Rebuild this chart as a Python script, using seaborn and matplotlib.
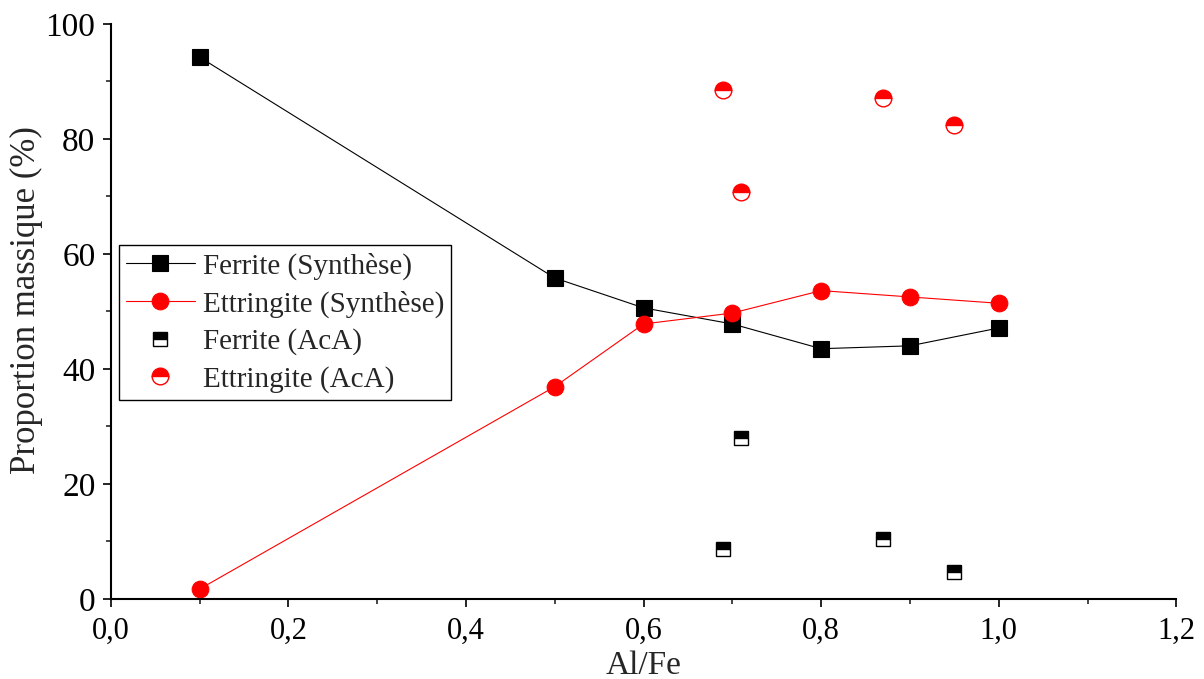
import numpy as np
import matplotlib
matplotlib.use("Agg")
import matplotlib.pyplot as plt
import seaborn as sns
from matplotlib.ticker import MultipleLocator, FuncFormatter

# Data
alFeSynthese = [0.1, 0.5, 0.6, 0.7, 0.8, 0.9, 1.0]
ferriteSynthese = [94.2, 55.8, 50.6, 47.8, 43.5, 44.0, 47.1]
ettringiteSynthese = [1.7, 36.9, 47.8, 49.7, 53.6, 52.5, 51.4]

alFeAcA = [0.69, 0.71, 0.87, 0.95]
ferriteAcA = [8.7, 28.0, 10.4, 4.7]
ettringiteAcA = [88.4, 70.8, 87.1, 82.4]

# Style
sns.set_style("ticks")
plt.rcParams['font.family'] = ['Liberation Serif', 'DejaVu Serif']
plt.rcParams['font.size'] = 16

fig = plt.figure(figsize = (12.04, 6.79), dpi = 100)
ax = fig.add_axes([0.092, 0.118, 0.885, 0.847])

# Synthesis series (lines + markers)
sns.lineplot(x = alFeSynthese, y = ferriteSynthese, ax = ax, color = 'black', linewidth = 0.8,
             marker = 's', markersize = 11, markeredgecolor = 'black', markeredgewidth = 0.8,
             sort = False, errorbar = None, label = "Ferrite (Synthèse)")
sns.lineplot(x = alFeSynthese, y = ettringiteSynthese, ax = ax, color = 'red', linewidth = 0.8,
             marker = 'o', markersize = 12, markeredgecolor = 'red', markeredgewidth = 0.8,
             sort = False, errorbar = None, label = "Ettringite (Synthèse)")

# AcA series (half-filled markers, no line)
sns.lineplot(x = alFeAcA, y = ferriteAcA, ax = ax, color = 'black', linestyle = '',
             marker = 's', markersize = 10.5, fillstyle = 'top', markerfacecoloralt = 'white',
             markeredgecolor = 'black', markeredgewidth = 1.0,
             sort = False, errorbar = None, label = "Ferrite (AcA)")
sns.lineplot(x = alFeAcA, y = ettringiteAcA, ax = ax, color = 'red', linestyle = '',
             marker = 'o', markersize = 12, fillstyle = 'top', markerfacecoloralt = 'white',
             markeredgecolor = 'red', markeredgewidth = 1.0,
             sort = False, errorbar = None, label = "Ettringite (AcA)")

# Axes
ax.set_xlim(0, 1.2)
ax.set_ylim(0, 100)
ax.xaxis.set_major_locator(MultipleLocator(0.2))
ax.xaxis.set_minor_locator(MultipleLocator(0.1))
ax.yaxis.set_major_locator(MultipleLocator(20))
ax.yaxis.set_minor_locator(MultipleLocator(10))
ax.xaxis.set_major_formatter(FuncFormatter(lambda v, p: f"{v:.1f}".replace('.', ',')))
ax.tick_params(which = 'major', direction = 'out', length = 6, width = 1.2, colors = 'black', pad = 5)
ax.tick_params(which = 'minor', direction = 'out', length = 3.5, width = 1.2)
ax.tick_params(axis = 'y', which = 'major', labelsize = 24)
ax.tick_params(axis = 'x', which = 'major', labelsize = 22, pad = 7)
for side in ['left', 'bottom']:
    ax.spines[side].set_linewidth(1.5)
    ax.spines[side].set_color('black')
sns.despine(ax = ax)

ax.set_xlabel("Al/Fe", fontsize = 24, labelpad = 3)
ax.set_ylabel("Proportion massique (%)", fontsize = 25)
ax.yaxis.set_label_coords(-0.064, 0.52)

# Legend
leg = ax.legend(loc = 'upper left', bbox_to_anchor = (0.0075, 0.615), fontsize = 21,
                frameon = True, fancybox = False, edgecolor = 'black', framealpha = 1,
                handlelength = 2.35, handletextpad = 0.28, borderpad = 0.25, labelspacing = 0.36,
                borderaxespad = 0)
leg.get_frame().set_linewidth(1.0)

fig.savefig("out.png", dpi = 100)
plt.close(fig)
